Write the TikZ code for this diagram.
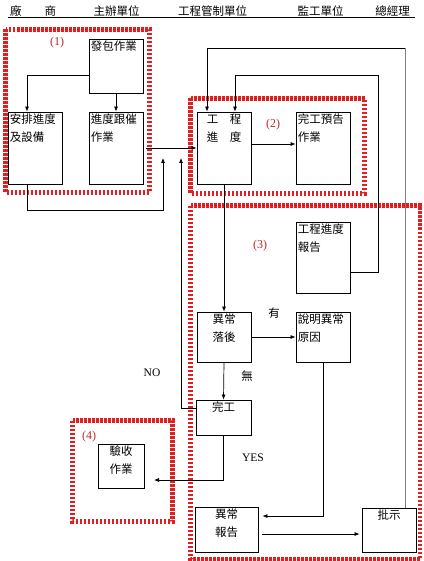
\documentclass[tikz,border=0pt]{standalone}
\usepackage{fontspec}
\setmainfont{Liberation Serif}
\newfontfamily\cjk{Noto Sans CJK TC}
\usetikzlibrary{arrows.meta}

\definecolor{framered}{RGB}{228,30,30}
\definecolor{tagred}{RGB}{190,40,40}

\tikzset{
  box/.style={draw, line width=0.8pt, inner sep=0pt},
  boxtext/.style={font=\cjk\fontsize{11.5}{18}\selectfont, inner sep=2pt},
  arr/.style={-{Latex[length=5pt,width=4pt]}, line width=0.7pt},
  frame/.style={draw=framered, line width=4.5pt, dash pattern=on 2.5pt off 1.5pt},
  tag/.style={font=\fontsize{12}{14}\selectfont, text=tagred},
  note/.style={font=\fontsize{11.5}{14}\selectfont},
  head/.style={font=\cjk\fontsize{11.5}{14}\selectfont},
}

\begin{document}
\begin{tikzpicture}[x=1pt, y=-1pt]

    % Page size of the reference
    \useasboundingbox (0,0) rectangle (423,561);

    % Column headings with the rule under them
    \node[head] (h1) at (33,11) {廠　　商};
    \node[head] (h2) at (116.5,11) {主辦單位};
    \node[head] (h3) at (212.5,11) {工程管制單位};
    \node[head] (h4) at (320.5,11) {監工單位};
    \node[head] (h5) at (392.5,11) {總經理};
    \draw[line width=0.8pt] (8,17) -- (415,17);

    % Red striped frames round the four groups
    \draw[frame] (5.5,29.5) rectangle (149.5,192.5);
    \draw[frame] (190.5,98.5) rectangle (364.5,193.5);
    \draw[frame] (190.5,205.5) rectangle (420,559);
    \draw[frame] (72.5,420.5) rectangle (172.5,521.5);
    \node[tag] (t1) at (57,43) {(1)};
    \node[tag] (t2) at (273,125) {(2)};
    \node[tag] (t3) at (260,246) {(3)};
    \node[tag] (t4) at (89,437) {(4)};

    % The boxes
    \node[box, minimum width=54pt, minimum height=54pt] (fabao) at (116,66) {};
    \node[box, minimum width=54pt, minimum height=72pt] (anpai) at (35,148) {};
    \node[box, minimum width=54pt, minimum height=72pt] (gencui) at (116,148) {};
    \node[box, minimum width=54pt, minimum height=72pt] (jindu) at (224,148) {};
    \node[box, minimum width=54pt, minimum height=72pt] (yugao) at (323,148) {};
    \node[box, minimum width=54pt, minimum height=71pt] (baogao) at (323,257.5) {};
    \node[box, minimum width=54pt, minimum height=50pt] (luohou) at (224,337) {};
    \node[box, minimum width=54pt, minimum height=50pt] (shuoming) at (323,337) {};
    \node[box, minimum width=55pt, minimum height=35pt] (wangong) at (223.5,417.5) {};
    \node[box, minimum width=46pt, minimum height=44pt] (yanshou) at (121,466) {};
    \node[box, minimum width=63pt, minimum height=45pt] (yichang) at (226.5,529.5) {};
    \node[box, minimum width=54pt, minimum height=44pt] (pishi) at (389,530) {};

    % Texts at the top of the boxes
    \node[boxtext, anchor=north west, align=left] (fabao-t) at (fabao.north west) {發包作業};
    \node[boxtext, anchor=north west, align=left] (anpai-t) at (anpai.north west) {安排進度\\及設備};
    \node[boxtext, anchor=north west, align=left] (gencui-t) at (gencui.north west) {進度跟催\\作業};
    \node[boxtext, anchor=north, align=center] (jindu-t) at (jindu.north) {工　程\\進　度};
    \node[boxtext, anchor=north west, align=left] (yugao-t) at (yugao.north west) {完工預告\\作業};
    \node[boxtext, anchor=north west, align=left] (baogao-t) at (baogao.north west) {工程進度\\報告};
    \node[boxtext, anchor=north, align=center] (luohou-t) at (luohou.north) {異常\\落後};
    \node[boxtext, anchor=north west, align=left] (shuoming-t) at (shuoming.north west) {說明異常\\原因};
    \node[boxtext, anchor=north, align=center] (wangong-t) at (wangong.north) {完工};
    \node[boxtext, anchor=north, align=center] (yanshou-t) at (yanshou.north) {驗收\\作業};
    \node[boxtext, anchor=north, align=center] (yichang-t) at (yichang.north) {異常\\報告};
    \node[boxtext, anchor=north, align=center] (pishi-t) at (pishi.north) {批示};

    % Free ends of some connectors
    \coordinate (in1) at (163,158);
    \coordinate (in2) at (181,158);
    \coordinate (topright) at (405,48);
    \coordinate (yanshou-in) at (154,480);

    % Connectors
    \draw[arr] ([yshift=-9pt]fabao.west) -| ([xshift=-8pt]anpai.north);
    \draw[arr] (fabao.south) -- (gencui.north);
    \draw[arr] ([xshift=3pt]gencui.east) -- (jindu.west);
    \draw[arr] ([yshift=4pt]jindu.east) -- ([yshift=4pt]yugao.west);
    \draw[arr] ([xshift=-8pt]anpai.south) |- (163,210) -- (in1);
    \draw[arr] ([yshift=9.5pt]wangong.west) -| (in2);
    \draw[gray, line width=0.8pt] ([xshift=16pt]pishi.north) -- (topright);
    \draw[arr] (topright) -| ([xshift=-17pt]jindu.north);
    \draw[arr] ([yshift=-14.5pt]baogao.east) -| (378,75) -| ([xshift=11pt]jindu.north);
    \draw[arr] (jindu.south) -- (luohou.north);
    \draw[arr] (luohou.east) -- (shuoming.west);
    \draw[arr] (luohou.south) -- (wangong.north);
    \draw[arr] (wangong.south) |- (yanshou-in);
    \draw[arr] (shuoming.south) |- ([xshift=4pt, yshift=13.5pt]yichang.east);
    \draw[arr] ([xshift=4pt, yshift=-4.5pt]yichang.east) -- ([xshift=-2pt, yshift=-4pt]pishi.west);

    % Branch labels
    \node[boxtext] (you) at (274,313) {有};
    \node[boxtext] (wu) at (247,376) {無};
    \node[note] (no) at (152,373) {NO};
    \node[note] (yes) at (253,458) {YES};

\end{tikzpicture}
\end{document}
